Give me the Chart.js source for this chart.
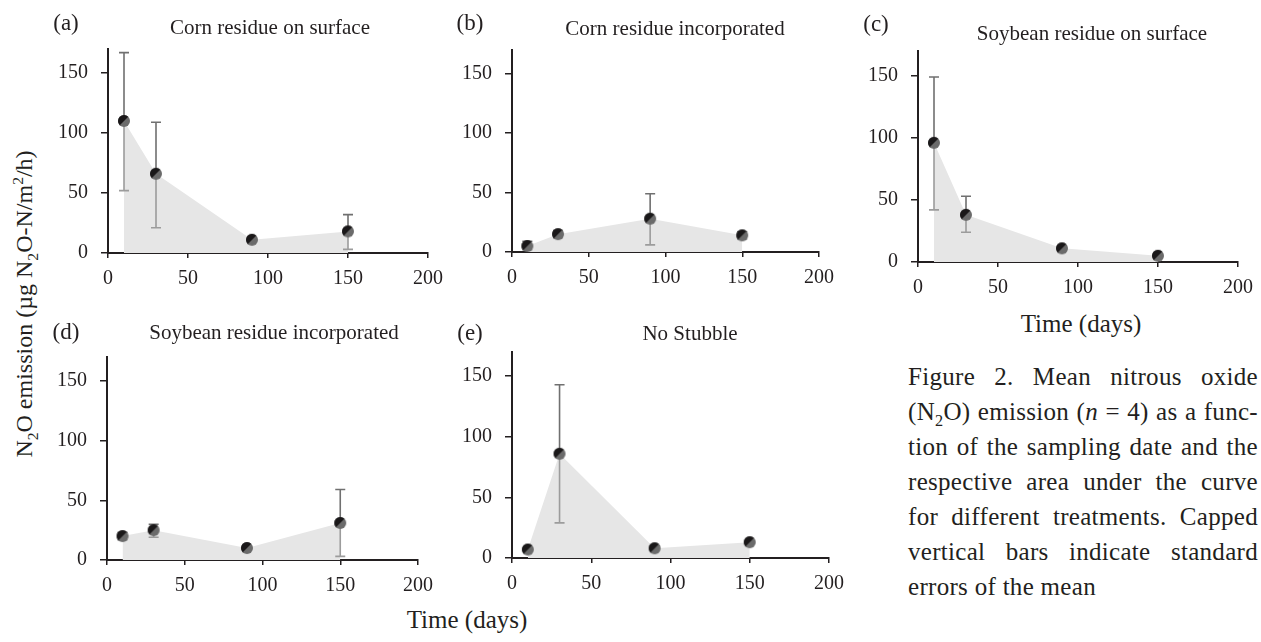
<!DOCTYPE html>
<html>
<head>
<meta charset="utf-8">
<script src="https://cdn.jsdelivr.net/npm/chart.js@4.4.0/dist/chart.umd.min.js"></script>
<style>
  body { margin: 0; background: #fff; }
  #fig { position: relative; width: 1261px; height: 642px; overflow: hidden;
         font-family: "Liberation Serif", serif; color: #231f20; }
  #fig canvas { position: absolute; }
  .lbl { position: absolute; white-space: nowrap; line-height: 1; transform: translate(-50%, -50%); }
  .ttl { font-size: 21px; }
  .tag { font-size: 23px; }
  .axt { font-size: 25px; }
  .ytitle { position: absolute; left: 24px; top: 304px; white-space: nowrap; line-height: 1;
            font-size: 24px; transform: translate(-50%, -50%) rotate(-90deg); }
  sub, sup { font-size: 0.65em; line-height: 0; }
  #caption { position: absolute; left: 908px; top: 359px; width: 350px; font-size: 25px;
             line-height: 35px; letter-spacing: 0.3px; }
  #caption div { text-align: justify; text-align-last: justify; white-space: nowrap; }
  #caption div.last { text-align-last: left; }
</style>
</head>
<body>
<div id="fig">
  <canvas id="pa"></canvas>
  <canvas id="pb"></canvas>
  <canvas id="pc"></canvas>
  <canvas id="pd"></canvas>
  <canvas id="pe"></canvas>

  <div class="lbl tag" style="left:66px;top:22px">(a)</div>
  <div class="lbl tag" style="left:470px;top:22px">(b)</div>
  <div class="lbl tag" style="left:876px;top:23px">(c)</div>
  <div class="lbl tag" style="left:66px;top:331px">(d)</div>
  <div class="lbl tag" style="left:470px;top:332px">(e)</div>

  <div class="lbl ttl" style="left:270px;top:27px">Corn residue on surface</div>
  <div class="lbl ttl" style="left:675px;top:28px">Corn residue incorporated</div>
  <div class="lbl ttl" style="left:1092px;top:33px">Soybean residue on surface</div>
  <div class="lbl ttl" style="left:274px;top:332px">Soybean residue incorporated</div>
  <div class="lbl ttl" style="left:690px;top:333px">No Stubble</div>

  <div class="lbl axt" style="left:1081px;top:323px">Time (days)</div>
  <div class="lbl axt" style="left:467px;top:619px">Time (days)</div>
  <div class="ytitle">N<sub>2</sub>O emission (µg N<sub>2</sub>O-N/m<sup>2</sup>/h)</div>

  <div id="caption">
    <div>Figure 2. Mean nitrous oxide</div>
    <div>(N<sub>2</sub>O) emission (<i>n</i> = 4) as a func-</div>
    <div>tion of the sampling date and the</div>
    <div>respective area under the curve</div>
    <div>for different treatments. Capped</div>
    <div>vertical bars indicate standard</div>
    <div class="last">errors of the mean</div>
  </div>
</div>

<script>
// sampling days
const days = [10, 30, 90, 150];
const xTicks = [0, 50, 100, 150, 200];
const yTicks = [0, 50, 100, 150];

// means and error-bar limits (µg N2O-N/m2/h)
const cornSurface   = [110, 66, 11, 18];
const cornSurfaceHi = [167, 109, 12, 32];
const cornSurfaceLo = [52, 21, 10, 3];

const cornInc   = [5, 15, 28, 14];
const cornIncHi = [9, 18, 49, 17];
const cornIncLo = [2, 12, 6, 11];

const soySurface   = [96, 38, 11, 5];
const soySurfaceHi = [149, 53, 13, 6];
const soySurfaceLo = [42, 24, 9, 3];

const soyInc   = [20, 25, 10, 31];
const soyIncHi = [23, 30, 11, 59];
const soyIncLo = [17, 19, 9, 3];

const noStubble   = [7, 86, 8, 13];
const noStubbleHi = [8, 143, 10, 14];
const noStubbleLo = [6, 29, 6, 12];

const ink = '#231f20';
const tickFont = { family: 'Liberation Serif', size: 20 };

// two-tone marker: dark upper-left half, grey lower-right half
function makeMarker() {
  const c = document.createElement('canvas');
  c.width = 14; c.height = 14;
  const g = c.getContext('2d');
  g.beginPath();
  g.arc(7, 7, 6, 0, Math.PI * 2);
  g.fillStyle = '#6b6b6b';
  g.fill();
  g.clip();
  g.beginPath();
  g.moveTo(-2, -2);
  g.lineTo(16, -2);
  g.lineTo(-2, 16);
  g.closePath();
  g.fillStyle = '#1a1819';
  g.fill();
  return c;
}
const marker = makeMarker();

const errorBars = {
  id: 'errorBars',
  beforeDatasetDraw(chart, args) {
    const ds = chart.data.datasets[args.index];
    const y = chart.scales.y;
    const ctx = chart.ctx;
    ctx.save();
    ctx.lineWidth = 1.6;
    const seg = (px, y0, y1, color) => {
      ctx.strokeStyle = color;
      ctx.beginPath();
      ctx.moveTo(px, y0);
      ctx.lineTo(px, y1);
      ctx.moveTo(px - 5, y1);
      ctx.lineTo(px + 5, y1);
      ctx.stroke();
    };
    args.meta.data.forEach((pt, i) => {
      const yc = y.getPixelForValue(ds.data[i].y);
      seg(pt.x, yc, y.getPixelForValue(ds.errHi[i]), '#707070');
      seg(pt.x, yc, y.getPixelForValue(ds.errLo[i]), '#9c9c9c');
    });
    ctx.restore();
  }
};

function panel(id, means, hi, lo, box) {
  const padTop = 14, padRight = 25, yW = 60, xH = 45;
  const canvas = document.getElementById(id);
  canvas.width = box.r - box.l + yW + padRight;
  canvas.height = box.b - box.t + padTop + xH;
  canvas.style.left = (box.l - yW) + 'px';
  canvas.style.top = (box.t - padTop) + 'px';

  new Chart(canvas, {
    type: 'line',
    data: {
      datasets: [{
        data: days.map((d, i) => ({ x: d, y: means[i] })),
        errHi: hi,
        errLo: lo,
        fill: 'origin',
        backgroundColor: '#e6e6e6',
        borderColor: 'rgba(0,0,0,0)',
        borderWidth: 0,
        tension: 0,
        pointStyle: marker,
        pointRadius: 7,
        pointHoverRadius: 7
      }]
    },
    options: {
      responsive: false,
      animation: false,
      devicePixelRatio: 1,
      events: [],
      layout: { padding: { top: padTop, right: padRight, left: 0, bottom: 0 } },
      plugins: { legend: { display: false }, tooltip: { enabled: false } },
      scales: {
        x: {
          type: 'linear',
          min: 0,
          max: 200,
          afterFit: s => { s.height = xH; },
          afterBuildTicks: s => { s.ticks = xTicks.map(v => ({ value: v })); },
          ticks: { padding: 9, color: ink, font: tickFont, maxRotation: 0 },
          grid: { drawOnChartArea: false, tickLength: 5, color: ink, lineWidth: 1.5 },
          border: { color: ink, width: 2 }
        },
        y: {
          type: 'linear',
          min: 0,
          max: 170,
          afterFit: s => { s.width = yW; },
          afterBuildTicks: s => { s.ticks = yTicks.map(v => ({ value: v })); },
          ticks: { padding: 13, color: ink, font: tickFont },
          grid: { drawOnChartArea: false, tickLength: 7, color: ink, lineWidth: 1.5 },
          border: { color: ink, width: 2 }
        }
      }
    },
    plugins: [errorBars]
  });
}

panel('pa', cornSurface, cornSurfaceHi, cornSurfaceLo, { l: 108, r: 428, t: 38, b: 253 });
panel('pb', cornInc, cornIncHi, cornIncLo, { l: 512, r: 819, t: 39, b: 252 });
panel('pc', soySurface, soySurfaceHi, soySurfaceLo, { l: 918, r: 1238, t: 40, b: 262 });
panel('pd', soyInc, soyIncHi, soyIncLo, { l: 107, r: 418, t: 346, b: 560 });
panel('pe', noStubble, noStubbleHi, noStubbleLo, { l: 512, r: 829, t: 341, b: 558 });
</script>
</body>
</html>
